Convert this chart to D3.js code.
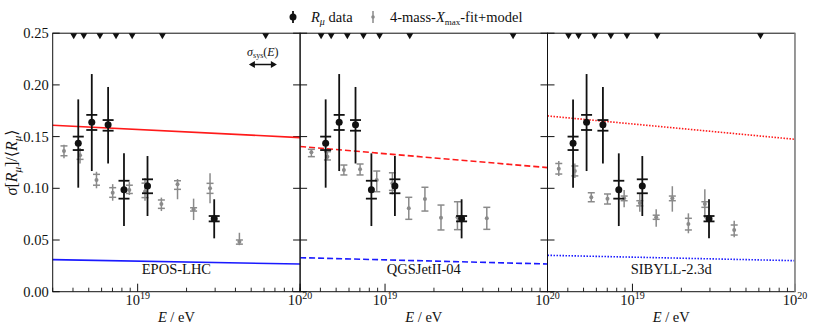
<!DOCTYPE html>
<html>
<head>
<meta charset="utf-8">
<script src="https://cdn.jsdelivr.net/npm/d3@7"></script>
<style>
  html, body { margin: 0; padding: 0; background: #fff; }
  svg { display: block; font-family: "Liberation Serif", "DejaVu Serif", serif; }
</style>
</head>
<body>
<div id="chart"></div>
<script>
// ---------- data ----------
const MODELS = ["EPOS-LHC", "QGSJetII-04", "SIBYLL-2.3d"];
const LINE_STYLES = ["none", "6,3", "1.5,1.5"];

// R_mu data (same in all panels)
const DATA_E = [4.31e18, 5.22e18, 6.58e18, 8.24e18, 1.15e19, 2.96e19];
const DATA_V = [0.1435, 0.1638, 0.1615, 0.0987, 0.1022, 0.0706];
const DATA_STAT_LO = [0.1006, 0.1167, 0.124, 0.0635, 0.0732, 0.0516];
const DATA_STAT_HI = [0.186, 0.2105, 0.198, 0.1338, 0.1312, 0.0894];
const DATA_SYS_LO = [0.137, 0.1564, 0.1557, 0.090, 0.0952, 0.068];
const DATA_SYS_HI = [0.150, 0.171, 0.166, 0.1073, 0.1087, 0.0732];

// energy-bin markers along the top
const TRI_E = [4.04e18, 4.66e18, 5.86e18, 7.36e18, 9.25e18, 1.42e19, 6.14e19];

// 4-mass-Xmax-fit+model points
const FIT_E = [3.52e18, 4.42e18, 5.58e18, 7.02e18, 8.89e18, 1.11e19, 1.40e19, 1.76e19, 2.21e19, 2.79e19, 4.23e19];
// per model: [centre, lineLo, lineHi, capLo, capHi]
const FIT_EPOS = [
  [0.136, 0.129, 0.142, 0.1315, 0.141], [0.132, 0.124, 0.139, 0.128, 0.137],
  [0.108, 0.100, 0.116, 0.103, 0.1135], [0.0957, 0.088, 0.104, 0.0913, 0.1006],
  [0.0983, 0.0935, 0.106, 0.095, 0.103], [0.097, 0.088, 0.110, 0.091, 0.105],
  [0.0848, 0.078, 0.091, 0.0806, 0.0887], [0.1039, 0.0894, 0.109, 0.099, 0.1073],
  [0.0797, 0.0693, 0.090, 0.078, 0.0812], [0.100, 0.0855, 0.1145, 0.0951, 0.1048],
  [0.0484, 0.045, 0.057, 0.046, 0.050],
];
const FIT_QGS = [
  [0.1348, 0.1306, 0.1377, 0.1306, 0.1377], [0.1306, 0.1274, 0.1354, 0.1274, 0.1354],
  [0.1177, 0.1129, 0.1225, 0.1129, 0.1225], [0.1184, 0.1129, 0.1235, 0.1129, 0.1235],
  [0.108, 0.0967, 0.1167, 0.0967, 0.1167], [0.105, 0.094, 0.115, 0.098, 0.115],
  [0.0807, 0.070, 0.0913, 0.070, 0.0913], [0.0897, 0.078, 0.101, 0.078, 0.101],
  [0.0716, 0.0597, 0.0838, 0.0597, 0.0838], [0.072, 0.060, 0.087, 0.060, 0.087],
  [0.071, 0.0603, 0.0816, 0.0603, 0.0816],
];
const FIT_SIB = [
  [0.119, 0.1119, 0.1264, 0.1138, 0.124], [0.1167, 0.110, 0.124, 0.112, 0.1216],
  [0.0913, 0.087, 0.0957, 0.087, 0.0957], [0.090, 0.0848, 0.0945, 0.0848, 0.0945],
  [0.0903, 0.0816, 0.0983, 0.088, 0.0925], [0.0857, 0.0774, 0.095, 0.083, 0.088],
  [0.072, 0.0629, 0.0797, 0.070, 0.074], [0.0903, 0.0774, 0.102, 0.088, 0.0925],
  [0.0655, 0.0565, 0.0758, 0.0597, 0.071], [0.0848, 0.071, 0.099, 0.0816, 0.087],
  [0.0597, 0.0526, 0.0687, 0.0548, 0.0645],
];
const FITS = [FIT_EPOS, FIT_QGS, FIT_SIB];

// model predictions: value at [3e18, 1e20]
const PROTON = [[0.161, 0.149], [0.1405, 0.120], [0.170, 0.1474]];
const IRON = [[0.031, 0.0268], [0.0329, 0.0268], [0.0352, 0.030]];

const Y_TICKS = [0, 0.05, 0.10, 0.15, 0.20, 0.25];
const X_DOMAIN = [3e18, 1e20];
const X_MAJOR = [1e19, 1e20];
const SYS_ARROW_E = 5.9e19;

// ---------- layout ----------
const W = 813, H = 332;
const P0 = 52.7, PW = 247.4, TOP = 33.2, BOT = 291.7;
const BLACK = "#111", GREY = "#8a8a8a";

const svg = d3.select("#chart").append("svg").attr("width", W).attr("height", H);
const y = d3.scaleLinear().domain([0, 0.25]).range([BOT, TOP]);

const minor = [];
[1e18, 1e19].forEach(dec => d3.range(2, 10).forEach(k => {
  const v = k * dec; if (v >= X_DOMAIN[0] && v < X_DOMAIN[1] && v !== 1e19) minor.push(v);
}));

MODELS.forEach((name, pi) => {
  const left = P0 + pi * PW;
  const x = d3.scaleLog().domain(X_DOMAIN).range([left, left + PW]);
  const g = svg.append("g");

  // y ticks (inward, both sides except far right)
  Y_TICKS.forEach(t => {
    g.append("line").attr("x1", left).attr("x2", left + 7).attr("y1", y(t)).attr("y2", y(t))
      .attr("stroke", BLACK).attr("stroke-width", 1);
    if (pi < 2) g.append("line").attr("x1", left + PW - 7).attr("x2", left + PW).attr("y1", y(t)).attr("y2", y(t))
      .attr("stroke", BLACK).attr("stroke-width", 1);
  });
  if (pi === 0) {
    Y_TICKS.forEach(t => g.append("text").attr("x", left - 4).attr("y", y(t)).attr("dy", "0.35em")
      .attr("text-anchor", "end").attr("font-size", 14.5).attr("fill", BLACK).text(t.toFixed(2)));
  }

  // x ticks
  minor.forEach(v => g.append("line").attr("x1", x(v)).attr("x2", x(v)).attr("y1", BOT).attr("y2", BOT - 4)
    .attr("stroke", BLACK).attr("stroke-width", 0.9));
  X_MAJOR.forEach(v => {
    g.append("line").attr("x1", x(v)).attr("x2", x(v)).attr("y1", BOT).attr("y2", BOT - 8)
      .attr("stroke", BLACK).attr("stroke-width", 1);
    const t = g.append("text").attr("x", x(v)).attr("y", BOT + 13).attr("text-anchor", "middle")
      .attr("font-size", 14.5).attr("fill", BLACK);
    t.append("tspan").text("10");
    t.append("tspan").attr("dy", -6).attr("font-size", 10).text(Math.round(Math.log10(v)));
  });

  // x label
  const xl = g.append("text").attr("x", left + PW / 2).attr("y", BOT + 30).attr("text-anchor", "middle")
    .attr("font-size", 14.5).attr("fill", BLACK);
  xl.append("tspan").attr("font-style", "italic").text("E");
  xl.append("tspan").text(" / eV");

  // model prediction lines
  [[PROTON[pi], "#ff1a1a"], [IRON[pi], "#1a1aff"]].forEach(([vals, col]) => {
    g.append("path")
      .attr("d", d3.line().x(d => x(d[0])).y(d => y(d[1]))([[X_DOMAIN[0], vals[0]], [X_DOMAIN[1], vals[1]]]))
      .attr("stroke", col).attr("stroke-width", 1.6).attr("fill", "none")
      .attr("stroke-dasharray", LINE_STYLES[pi]);
  });

  // fit points (grey)
  FITS[pi].forEach((d, i) => {
    const cx = x(FIT_E[i]);
    g.append("line").attr("x1", cx).attr("x2", cx).attr("y1", y(d[1])).attr("y2", y(d[2]))
      .attr("stroke", GREY).attr("stroke-width", 1.5);
    [d[3], d[4]].forEach(c => g.append("line").attr("x1", cx - 3.5).attr("x2", cx + 3.5)
      .attr("y1", y(c)).attr("y2", y(c)).attr("stroke", GREY).attr("stroke-width", 1.5));
    g.append("circle").attr("cx", cx).attr("cy", y(d[0])).attr("r", 2).attr("fill", GREY);
  });

  // R_mu data (black)
  DATA_E.forEach((e, i) => {
    const cx = x(e);
    g.append("line").attr("x1", cx).attr("x2", cx).attr("y1", y(DATA_STAT_LO[i])).attr("y2", y(DATA_STAT_HI[i]))
      .attr("stroke", BLACK).attr("stroke-width", 1.8);
    [DATA_SYS_LO[i], DATA_SYS_HI[i]].forEach(c => g.append("line").attr("x1", cx - 5.5).attr("x2", cx + 5.5)
      .attr("y1", y(c)).attr("y2", y(c)).attr("stroke", BLACK).attr("stroke-width", 1.8));
    g.append("circle").attr("cx", cx).attr("cy", y(DATA_V[i])).attr("r", 3.5).attr("fill", BLACK);
  });

  // triangles at top
  TRI_E.forEach(e => g.append("path")
    .attr("d", `M${x(e) - 3.5},${TOP} L${x(e) + 3.5},${TOP} L${x(e)},${TOP + 6} Z`).attr("fill", BLACK));

  // model name
  g.append("text").attr("x", left + PW / 2).attr("y", y(0.0175)).attr("text-anchor", "middle")
    .attr("font-size", 14.5).attr("fill", BLACK).text(name);

  // frame
  g.append("rect").attr("x", left).attr("y", TOP).attr("width", PW).attr("height", BOT - TOP)
    .attr("fill", "none").attr("stroke", BLACK).attr("stroke-width", 1);
  if (pi === 2) g.append("line").attr("x1", left + PW).attr("x2", left + PW).attr("y1", TOP).attr("y2", BOT)
    .attr("stroke", "#999").attr("stroke-width", 1.5);

  // sigma_sys arrow
  if (pi === 0) {
    const ax = x(SYS_ARROW_E), w = 28, ay = 64.5;
    g.append("line").attr("x1", ax - w / 2 + 4).attr("x2", ax + w / 2 - 4).attr("y1", ay).attr("y2", ay)
      .attr("stroke", BLACK).attr("stroke-width", 1.5);
    g.append("path").attr("d", `M${ax - w / 2},${ay} l6,-3.5 l0,7 Z`).attr("fill", BLACK);
    g.append("path").attr("d", `M${ax + w / 2},${ay} l-6,-3.5 l0,7 Z`).attr("fill", BLACK);
    const st = g.append("text").attr("x", ax).attr("y", 56).attr("text-anchor", "middle")
      .attr("font-size", 12).attr("fill", BLACK);
    st.append("tspan").attr("font-style", "italic").text("σ");
    st.append("tspan").attr("font-size", 8).attr("dy", 2).text("sys");
    st.append("tspan").attr("dy", -2).text("(");
    st.append("tspan").attr("font-style", "italic").text("E");
    st.append("tspan").text(")");
  }
});

// y label
const yl = svg.append("text").attr("transform", `translate(17,${(TOP + BOT) / 2}) rotate(-90)`)
  .attr("text-anchor", "middle").attr("font-size", 16).attr("fill", BLACK);
yl.append("tspan").attr("font-style", "italic").text("σ");
yl.append("tspan").text("[");
yl.append("tspan").attr("font-style", "italic").text("R");
yl.append("tspan").attr("font-style", "italic").attr("font-size", 11).attr("dy", 4).text("μ");
yl.append("tspan").attr("dy", -4).text("]/⟨");
yl.append("tspan").attr("font-style", "italic").text("R");
yl.append("tspan").attr("font-style", "italic").attr("font-size", 11).attr("dy", 4).text("μ");
yl.append("tspan").attr("dy", -4).text("⟩");

// legend
const leg = svg.append("g");
const ly = 17;
leg.append("line").attr("x1", 293).attr("x2", 293).attr("y1", ly - 6).attr("y2", ly + 6).attr("stroke", BLACK).attr("stroke-width", 1.8);
leg.append("circle").attr("cx", 293).attr("cy", ly).attr("r", 3.5).attr("fill", BLACK);
const lt1 = leg.append("text").attr("x", 311).attr("y", ly).attr("dy", "0.35em").attr("font-size", 14.5).attr("fill", BLACK);
lt1.append("tspan").attr("font-style", "italic").text("R");
lt1.append("tspan").attr("font-style", "italic").attr("font-size", 10).attr("dy", 3).text("μ");
lt1.append("tspan").attr("dy", -3).text(" data");
leg.append("line").attr("x1", 373).attr("x2", 373).attr("y1", ly - 6).attr("y2", ly + 6).attr("stroke", GREY).attr("stroke-width", 1.5);
leg.append("circle").attr("cx", 373).attr("cy", ly).attr("r", 1.8).attr("fill", GREY);
const lt2 = leg.append("text").attr("x", 390).attr("y", ly).attr("dy", "0.35em").attr("font-size", 14.5).attr("fill", BLACK);
lt2.append("tspan").text("4-mass-");
lt2.append("tspan").attr("font-style", "italic").text("X");
lt2.append("tspan").attr("font-size", 9).attr("dy", 3).text("max");
lt2.append("tspan").attr("dy", -3).text("-fit+model");
</script>
</body>
</html>
